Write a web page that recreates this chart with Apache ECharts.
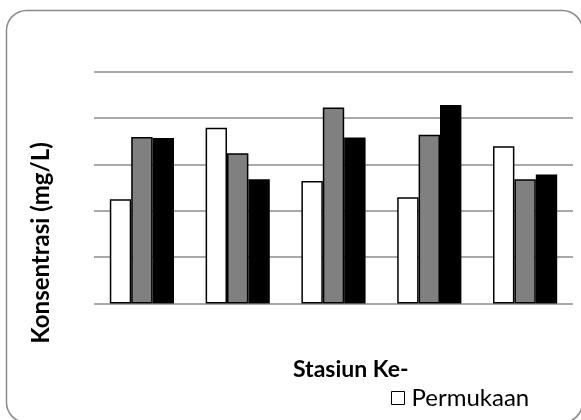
<!DOCTYPE html>
<html>
<head>
<meta charset="utf-8">
<script src="https://cdn.jsdelivr.net/npm/echarts@6/dist/echarts.min.js"></script>
<style>
html,body{margin:0;padding:0;background:#fff;}
#c{width:581px;height:420px;}
</style>
</head>
<body>
<div id="c"></div>
<script>
const categories = ['1', '2', '3', '4', '5'];
const permukaan = [2.25, 3.79, 2.64, 2.29, 3.39];
const tengah = [3.59, 3.24, 4.23, 3.64, 2.68];
const dasar = [3.57, 2.68, 3.58, 4.28, 2.78];
const yTicks = [0, 1, 2, 3, 4, 5];

const FONT = 'Lato';
const chart = echarts.init(document.getElementById('c'), null, {renderer: 'canvas'});
function barSeries(name, data, color) {
  return {
    name: name,
    type: 'bar',
    data: data,
    barGap: '0%',
    barCategoryGap: '33%',
    itemStyle: {color: color, borderColor: '#000', borderWidth: 1.5},
    emphasis: {disabled: true},
    animation: false
  };
}
chart.setOption({
  animation: false,
  backgroundColor: '#fff',
  graphic: [{
    type: 'rect',
    silent: true,
    z: -10,
    shape: {x: 6.5, y: 10.5, width: 576, height: 412, r: 20},
    style: {fill: '#fff', stroke: '#8a8a8a', lineWidth: 1.5}
  }, {
    type: 'text',
    silent: true,
    x: 293,
    y: 370,
    style: {text: 'Stasiun Ke-', font: 'bold 23px ' + FONT, fill: '#000', verticalAlign: 'middle', align: 'left'}
  }, {
    type: 'text',
    silent: true,
    x: 41,
    y: 243,
    rotation: Math.PI / 2,
    style: {text: 'Konsentrasi (mg/L)', font: 'bold 24px ' + FONT, fill: '#000', verticalAlign: 'middle', align: 'center'}
  }],
  grid: {left: 94, right: 8, top: 71.7, bottom: 116.5, containLabel: false},
  legend: {
    data: ['Permukaan'],
    left: 391,
    top: 386,
    padding: 0,
    itemWidth: 13,
    itemHeight: 13,
    itemGap: 4,
    icon: 'rect',
    textStyle: {fontFamily: FONT, fontSize: 24, color: '#000', padding: [0, 0, 0, 2]},
    itemStyle: {borderColor: '#000', borderWidth: 1}
  },
  xAxis: {
    type: 'category',
    data: categories,
    axisLine: {show: false},
    axisTick: {show: false},
    axisLabel: {show: false}
  },
  yAxis: {
    type: 'value',
    min: yTicks[0],
    max: yTicks[yTicks.length - 1],
    interval: 1,
    axisLine: {show: false},
    axisTick: {show: false},
    axisLabel: {show: false},
    splitLine: {show: true, lineStyle: {color: '#8c8c8c', width: 1.5}}
  },
  series: [
    barSeries('Permukaan', permukaan, '#ffffff'),
    barSeries('Tengah', tengah, '#808080'),
    barSeries('Dasar', dasar, '#000000')
  ]
});
</script>
</body>
</html>
